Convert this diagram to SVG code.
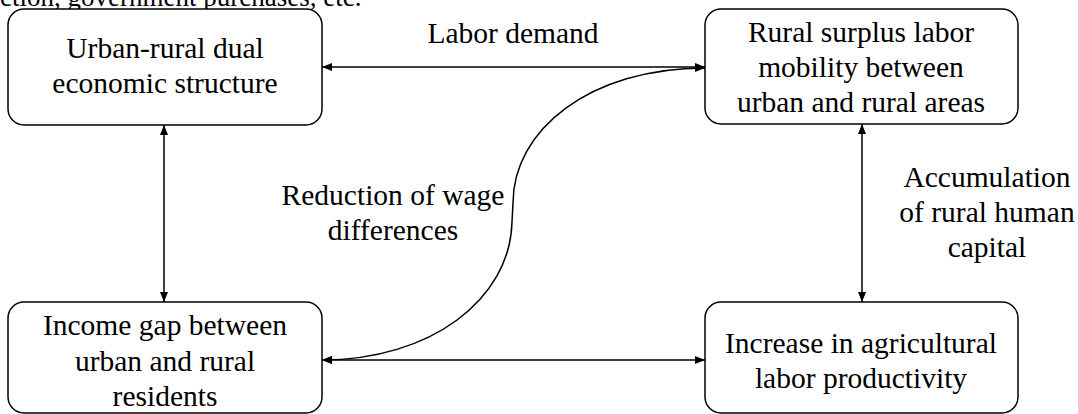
<svg xmlns="http://www.w3.org/2000/svg" width="1078" height="414" viewBox="0 0 1078 414">
<defs>
<marker id="ah" viewBox="0 0 10 8" refX="10" refY="4" markerWidth="10" markerHeight="8" markerUnits="userSpaceOnUse" orient="auto-start-reverse">
<path d="M0,0 L10,4 L0,8 Z" fill="#000"/>
</marker>
<style>
.box{fill:#fff;stroke:#000;stroke-width:1.5}
.t{font-family:"Liberation Serif","Times New Roman",serif;font-size:29.5px;fill:#000;text-anchor:middle}
.c{fill:none;stroke:#000;stroke-width:1.5}
</style>
</defs>
<rect width="1078" height="414" fill="#fff"/>
<text x="0" y="6" style="font-family:'Liberation Serif','Times New Roman',serif;font-size:27px;fill:#000">ction, government purchases, etc.</text>
<g id="connectors">
<line class="c" x1="322" y1="67" x2="705" y2="67" marker-start="url(#ah)" marker-end="url(#ah)"/>
<line class="c" x1="322" y1="360" x2="705" y2="360" marker-start="url(#ah)" marker-end="url(#ah)"/>
<line class="c" x1="164" y1="125" x2="164" y2="302" marker-start="url(#ah)" marker-end="url(#ah)"/>
<line class="c" x1="862" y1="124" x2="862" y2="302" marker-start="url(#ah)" marker-end="url(#ah)"/>
<path class="c" d="M705,68 C590,68 513,130 513,203 L512,222 C510,300 430,360 322,360" marker-start="url(#ah)" marker-end="url(#ah)"/>
</g>
<g id="n1">
<rect class="box" x="8" y="9" width="314" height="116" rx="16"/>
<text class="t" x="165" y="58">Urban-rural dual</text>
<text class="t" x="165" y="93">economic structure</text>
</g>
<g id="n2">
<rect class="box" x="705" y="9" width="313" height="115" rx="16"/>
<text class="t" x="861" y="42">Rural surplus labor</text>
<text class="t" x="861" y="77">mobility between</text>
<text class="t" x="861" y="112">urban and rural areas</text>
</g>
<g id="n3">
<rect class="box" x="8" y="302" width="314" height="111" rx="16"/>
<text class="t" x="165" y="335">Income gap between</text>
<text class="t" x="165" y="371">urban and rural</text>
<text class="t" x="165" y="406">residents</text>
</g>
<g id="n4">
<rect class="box" x="705" y="302" width="313" height="111" rx="16"/>
<text class="t" x="861" y="353">Increase in agricultural</text>
<text class="t" x="861" y="388">labor productivity</text>
</g>
<g id="labels">
<text class="t" x="513" y="43">Labor demand</text>
<text class="t" x="393" y="205">Reduction of wage</text>
<text class="t" x="393" y="240">differences</text>
<text class="t" x="987" y="187">Accumulation</text>
<text class="t" x="987" y="222">of rural human</text>
<text class="t" x="987" y="257">capital</text>
</g>
</svg>
